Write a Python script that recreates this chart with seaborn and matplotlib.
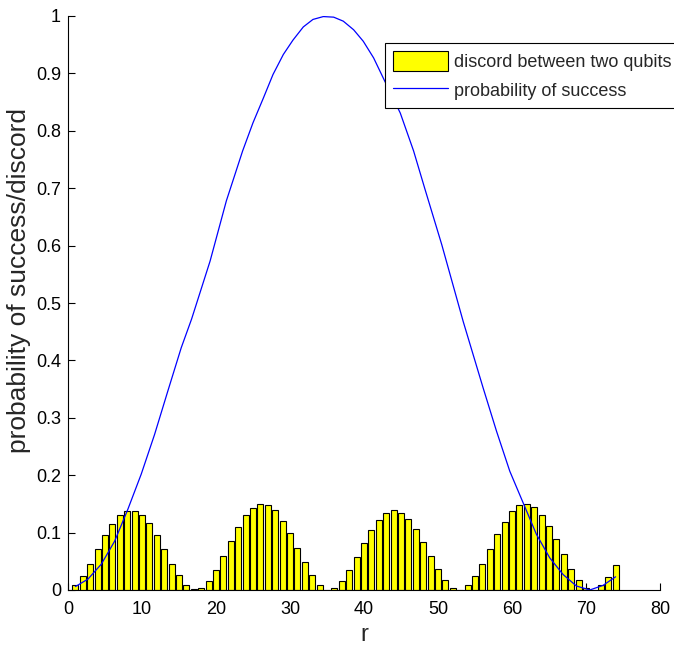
import numpy as np
import pandas as pd
import matplotlib
matplotlib.use("Agg")
import matplotlib.pyplot as plt
from matplotlib.patches import Patch
from matplotlib.lines import Line2D
import seaborn as sns

# ---- data ----
r_values = list(range(1, 75))
discord = [0.008, 0.024, 0.046, 0.071, 0.095, 0.115, 0.130, 0.138, 0.138, 0.131,
           0.116, 0.095, 0.071, 0.046, 0.026, 0.009, 0.001, 0.003, 0.016, 0.035,
           0.059, 0.085, 0.110, 0.130, 0.143, 0.150, 0.148, 0.139, 0.121, 0.099,
           0.074, 0.049, 0.026, 0.009, 0.0005, 0.003, 0.016, 0.035, 0.057, 0.082,
           0.105, 0.122, 0.134, 0.139, 0.135, 0.124, 0.106, 0.084, 0.060, 0.036,
           0.017, 0.003, 0.0005, 0.008, 0.024, 0.046, 0.071, 0.097, 0.119, 0.137,
           0.148, 0.150, 0.144, 0.131, 0.111, 0.088, 0.062, 0.037, 0.017, 0.004,
           0.0005, 0.008, 0.023, 0.044]

curve_r = [1.0, 2.7, 4.5, 6.3, 8.1, 9.9, 11.7, 13.5, 15.3, 16.7, 19.2, 21.4, 23.6,
           25.0, 26.4, 27.7, 29.1, 30.4, 31.8, 33.1, 34.5, 35.9, 37.2, 38.6, 39.9,
           41.3, 42.6, 44.9, 46.7, 48.2, 50.5, 53.4, 56.1, 57.9, 59.7, 61.5,
           63.3, 65.1, 66.9, 68.7, 70.5, 72.3, 74.0]
curve_p = [0.006, 0.019, 0.045, 0.085, 0.141, 0.202, 0.271, 0.347, 0.422, 0.472,
           0.573, 0.678, 0.765, 0.814, 0.857, 0.898, 0.933, 0.958, 0.981, 0.994,
           0.999, 0.998, 0.991, 0.976, 0.956, 0.927, 0.892, 0.831, 0.765, 0.700,
           0.602, 0.468, 0.352, 0.277, 0.207, 0.152, 0.097, 0.056, 0.027,
           0.007, 0.000, 0.008, 0.023]

x_ticks = [0, 10, 20, 30, 40, 50, 60, 70, 80]
y_ticks = [0, 0.1, 0.2, 0.3, 0.4, 0.5, 0.6, 0.7, 0.8, 0.9, 1]
y_tick_labels = ["0", "0.1", "0.2", "0.3", "0.4", "0.5", "0.6", "0.7", "0.8", "0.9", "1"]
legend_labels = ["discord between two qubits", "probability of success"]

# ---- style ----
sns.set_style("ticks")
plt.rcParams["font.family"] = ["Liberation Sans", "DejaVu Sans"]

fig = plt.figure(figsize=(6.74, 6.46), dpi=100)
ax = fig.add_axes([68 / 674, 1 - 590 / 646, (660 - 68) / 674, (590 - 16) / 646])

bars_df = pd.DataFrame({"r": r_values, "discord": discord})
curve_df = pd.DataFrame({"r": curve_r, "p": curve_p})

sns.barplot(data=bars_df, x="r", y="discord", native_scale=True, width=0.8,
            color="#ffff00", saturation=1, edgecolor="black", linewidth=0.8,
            ax=ax, errorbar=None)
sns.lineplot(data=curve_df, x="r", y="p", color="#0000ff", linewidth=0.9, ax=ax)

ax.set_xlim(0, 80)
ax.set_ylim(0, 1)
ax.set_xticks(x_ticks)
ax.set_xticklabels([str(t) for t in x_ticks])
ax.set_yticks(y_ticks)
ax.set_yticklabels(y_tick_labels)
ax.tick_params(direction="in", length=5, width=0.8, labelsize=13, colors="black")
ax.tick_params(axis="x", pad=8)
ax.tick_params(axis="y", pad=5)
for s in ["top", "right"]:
    ax.spines[s].set_visible(False)
for s in ["left", "bottom"]:
    ax.spines[s].set_color("black")
    ax.spines[s].set_linewidth(0.8)

ax.set_xlabel("r", fontsize=17, labelpad=4)
ax.set_ylabel("probability of success/discord", fontsize=19)
ax.yaxis.set_label_coords(-0.063, 0.54)

handles = [Patch(facecolor="#ffff00", edgecolor="black", linewidth=0.8),
           Line2D([0], [0], color="#0000ff", linewidth=0.9)]
leg = fig.legend(handles, legend_labels, loc="upper left",
                 bbox_to_anchor=(385 / 674, 1 - 43 / 646),
                 fontsize=13, frameon=True, fancybox=False, framealpha=1,
                 edgecolor="black", handlelength=3.05, handleheight=1.28,
                 handletextpad=0.33, labelspacing=0.5, borderpad=0.45,
                 borderaxespad=0)
leg.get_frame().set_linewidth(0.8)

fig.savefig("out.png", dpi=100)
